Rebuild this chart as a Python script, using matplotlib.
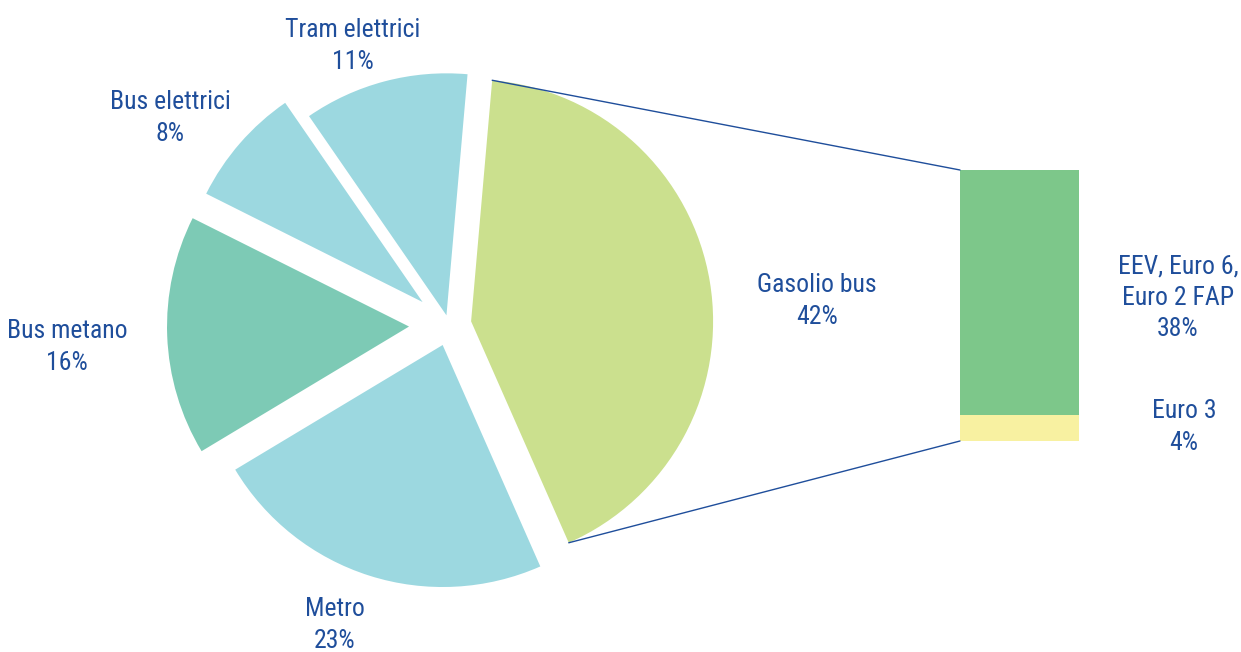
import matplotlib
matplotlib.use('Agg')
import numpy as np
import matplotlib.pyplot as plt
from matplotlib import font_manager
from matplotlib.patches import ConnectionPatch

# dati
pie_labels = ['Gasolio bus', 'Metro', 'Bus metano', 'Bus elettrici', 'Tram elettrici']
pie_values = [42, 23, 16, 8, 11]
bar_labels = ['Euro 3', 'EEV, Euro 6,\nEuro 2 FAP']
bar_values = [4, 38]

# colori
pie_colors = ['#cbe08e', '#9cd8e0', '#7dcab5', '#9cd8e0', '#9cd8e0']
bar_colors = ['#f8f1a1', '#7dc78a']
text_color = '#1f4e9b'
line_color = '#1f4e9b'

# font stretto se disponibile
available = {f.name for f in font_manager.fontManager.ttflist}
narrow = [n for n in ['Roboto Condensed', 'Open Sans Condensed', 'Liberation Sans Narrow']
          if n in available]
if narrow:
    font_kw = dict(family=[narrow[0], 'DejaVu Sans'])
    fsize, lsp = 18.5, 1.38
else:
    font_kw = dict(family=['DejaVu Sans'], stretch='condensed')
    fsize, lsp = 16.5, 1.45

W, H = 1241, 652
fig = plt.figure(figsize=(W / 100, H / 100), dpi=100)
ax = fig.add_axes([0, 0, 1, 1])

# torta (coordinate in pixel, y verso l'alto)
radius = 242
center = (449, H - 325)
explode = [22.4, 21.0, 40.0, 35.0, 10.0]
wedges, _ = ax.pie(pie_values, explode=explode, colors=pie_colors, startangle=85.0,
                   counterclock=False, radius=radius, center=center,
                   wedgeprops=dict(linewidth=0), frame=True)
ax.set_xlim(0, W)
ax.set_ylim(0, H)
ax.set_aspect('equal')
ax.axis('off')

# barra impilata
ax_b = fig.add_axes([960 / W, (H - 441) / H, 119 / W, 271 / H])
bottom = 0
for val, col in zip(bar_values, bar_colors):
    ax_b.bar(0, val, bottom=bottom, width=1, color=col, linewidth=0)
    bottom += val
ax_b.set_xlim(-0.5, 0.5)
ax_b.set_ylim(0, sum(bar_values))
ax_b.axis('off')

# linee di collegamento
w = wedges[0]
cx, cy = w.center
for ang, yb in [(w.theta2, sum(bar_values)), (w.theta1, 0)]:
    pt = (cx + w.r * np.cos(np.radians(ang)), cy + w.r * np.sin(np.radians(ang)))
    con = ConnectionPatch(xyA=pt, coordsA=ax.transData, xyB=(-0.5, yb), coordsB=ax_b.transData,
                          color=line_color, linewidth=1.0)
    fig.add_artist(con)

# etichette
label_pos = {
    'Gasolio bus': (817, 301),
    'Metro': (335, 625),
    'Bus metano': (67, 347),
    'Bus elettrici': (170, 118),
    'Tram elettrici': (353, 46),
}
for lab, val in zip(pie_labels, pie_values):
    x, y = label_pos[lab]
    ax.text(x, H - y, f'{lab}\n{val}%', ha='center', va='center', color=text_color,
            fontsize=fsize, linespacing=lsp, **font_kw)

bar_pos = {'Euro 3': (1184, 427), 'EEV, Euro 6,\nEuro 2 FAP': (1178, 298)}
for lab, val in zip(bar_labels, bar_values):
    x, y = bar_pos[lab]
    ax.text(x, H - y, f'{lab}\n{val}%', ha='center', va='center', color=text_color,
            fontsize=fsize, linespacing=lsp, **font_kw)

plt.savefig('out.png', dpi=100)
